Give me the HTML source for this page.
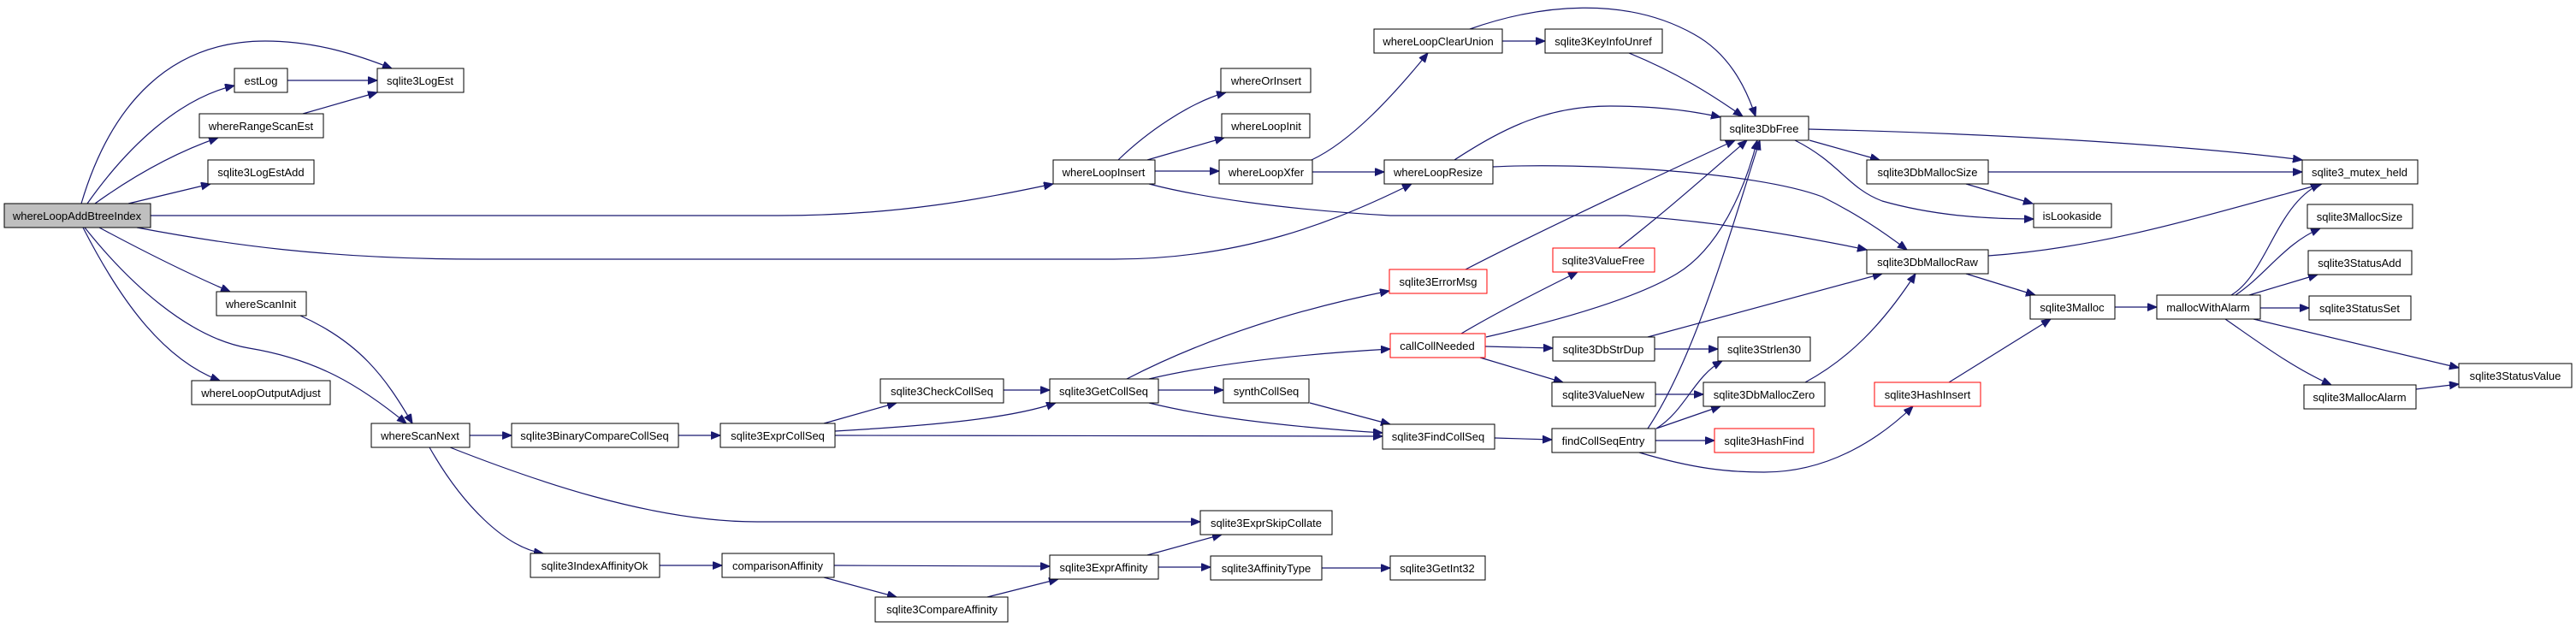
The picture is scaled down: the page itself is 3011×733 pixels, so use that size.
<!DOCTYPE html>
<html><head><meta charset="utf-8"><style>
html,body{margin:0;padding:0;background:#fff;}
svg{display:block;}
text{font-family:"Liberation Sans",Arial,sans-serif;font-size:13px;fill:#000;text-anchor:middle;}
.e{fill:none;stroke:#191970;stroke-width:1.2;marker-end:url(#a);}
.n{fill:#fff;stroke:#000;stroke-width:1;}
.r{fill:#fff;stroke:#ff0000;stroke-width:1;}
</style></head><body>
<svg width="3011" height="733" viewBox="0 0 3011 733" xmlns="http://www.w3.org/2000/svg">
<defs><marker id="a" markerUnits="userSpaceOnUse" markerWidth="12" markerHeight="10" refX="11" refY="4.5" orient="auto"><path d="M0,0 L11,4.5 L0,9 z" fill="#191970" stroke="#191970"/></marker></defs>
<g>
<path class="e" d="M95,238 C130,120 200,48 310,48 C370,48 420,65 458,80"/>
<path class="e" d="M102,238 C150,170 210,115 274,100"/>
<path class="e" d="M111,238 C150,210 200,180 255,161"/>
<path class="e" d="M150,238 L246,215"/>
<path class="e" d="M176,252 L910,252 C1050,252 1150,232 1231,215"/>
<path class="e" d="M160,266 C260,285 380,303 560,303 L1302,303 C1450,303 1560,260 1650,215"/>
<path class="e" d="M116,266 C170,295 220,320 269,341"/>
<path class="e" d="M99,266 C150,330 220,395 291,407 C370,420 420,450 475,495"/>
<path class="e" d="M97,266 C140,350 190,420 257,445"/>
<path class="e" d="M336,94 L441,94"/>
<path class="e" d="M354,133 L441,108"/>
<path class="e" d="M351,369 C420,400 450,440 482,495"/>
<path class="e" d="M549,509 L598,509"/>
<path class="e" d="M526,523 C620,560 760,610 885,610 L1403,610"/>
<path class="e" d="M502,523 C540,590 590,640 635,647"/>
<path class="e" d="M793,509 L842,509"/>
<path class="e" d="M963,495 L1048,471"/>
<path class="e" d="M976,504 C1080,498 1180,490 1234,471"/>
<path class="e" d="M976,509 L1616,510"/>
<path class="e" d="M1173,456 L1227,456"/>
<path class="e" d="M1317,443 C1400,400 1500,365 1624,340"/>
<path class="e" d="M1343,443 C1420,425 1520,414 1625,408"/>
<path class="e" d="M1354,456 L1430,456"/>
<path class="e" d="M1343,471 C1420,490 1520,500 1616,506"/>
<path class="e" d="M1531,471 L1625,496"/>
<path class="e" d="M771,661 L844,661"/>
<path class="e" d="M975,661 L1227,662"/>
<path class="e" d="M963,675 L1048,698"/>
<path class="e" d="M1154,698 L1237,677"/>
<path class="e" d="M1341,649 L1428,625"/>
<path class="e" d="M1354,663 L1415,663"/>
<path class="e" d="M1545,664 L1625,664"/>
<path class="e" d="M1307,187 C1340,155 1390,120 1433,108"/>
<path class="e" d="M1341,187 L1431,161"/>
<path class="e" d="M1350,200 L1425,200"/>
<path class="e" d="M1343,215 C1400,230 1500,245 1625,252 L1900,252 C2000,258 2100,275 2182,292"/>
<path class="e" d="M1533,187 C1580,165 1630,110 1669,62"/>
<path class="e" d="M1534,201 L1618,201"/>
<path class="e" d="M1756,48 L1806,48"/>
<path class="e" d="M1718,34 C1800,5 1900,-5 1980,40 C2020,62 2040,100 2052,136"/>
<path class="e" d="M1904,62 C1960,85 2000,110 2037,136"/>
<path class="e" d="M1700,187 C1760,148 1810,124 1882,124 C1940,124 1980,130 2011,137"/>
<path class="e" d="M1745,195 C1850,190 2050,200 2130,230 C2170,250 2200,270 2229,292"/>
<path class="e" d="M1713,315 C1800,270 1950,200 2028,164"/>
<path class="e" d="M1892,290 C1950,245 2000,200 2042,164"/>
<path class="e" d="M1708,390 C1750,365 1800,340 1844,318"/>
<path class="e" d="M1737,394 C1820,375 1910,350 1960,320 C2010,290 2040,220 2054,164"/>
<path class="e" d="M1736,405 L1815,407"/>
<path class="e" d="M1730,418 L1827,447"/>
<path class="e" d="M1926,394 L2200,320"/>
<path class="e" d="M1934,408 L2008,408"/>
<path class="e" d="M1935,461 L1991,461"/>
<path class="e" d="M2110,447 C2160,420 2200,380 2239,320"/>
<path class="e" d="M1747,512 L1814,514"/>
<path class="e" d="M1926,501 C1980,420 2020,280 2057,164"/>
<path class="e" d="M1936,501 C1970,480 1980,440 2013,422"/>
<path class="e" d="M1936,501 L2011,475"/>
<path class="e" d="M1935,515 L2004,515"/>
<path class="e" d="M1916,529 C1980,548 2020,552 2062,552 C2140,552 2200,510 2236,475"/>
<path class="e" d="M2114,151 C2400,158 2600,175 2691,187"/>
<path class="e" d="M2115,164 L2197,187"/>
<path class="e" d="M2098,164 C2150,190 2160,220 2200,235 C2260,252 2320,256 2377,256"/>
<path class="e" d="M2324,201 L2691,201"/>
<path class="e" d="M2298,215 L2376,238"/>
<path class="e" d="M2324,299 C2450,290 2550,260 2714,215"/>
<path class="e" d="M2298,320 L2379,345"/>
<path class="e" d="M2278,447 L2397,373"/>
<path class="e" d="M2472,359 L2521,359"/>
<path class="e" d="M2608,345 C2650,320 2660,240 2712,215"/>
<path class="e" d="M2613,345 C2650,320 2670,285 2712,267"/>
<path class="e" d="M2629,345 L2709,321"/>
<path class="e" d="M2642,360 L2699,360"/>
<path class="e" d="M2634,373 L2874,430"/>
<path class="e" d="M2601,373 C2640,400 2680,430 2725,450"/>
<path class="e" d="M2824,455 L2874,449"/>
</g>
<g>
<rect x="5" y="238" width="171" height="28" fill="#bfbfbf" stroke="#000"/><text x="90" y="257">whereLoopAddBtreeIndex</text>
<rect class="n" x="274" y="80" width="62" height="28"/><text x="305" y="99">estLog</text>
<rect class="n" x="441" y="80" width="101" height="28"/><text x="491" y="99">sqlite3LogEst</text>
<rect class="n" x="233" y="133" width="145" height="28"/><text x="305" y="152">whereRangeScanEst</text>
<rect class="n" x="243" y="187" width="124" height="28"/><text x="305" y="206">sqlite3LogEstAdd</text>
<rect class="n" x="253" y="341" width="105" height="28"/><text x="305" y="360">whereScanInit</text>
<rect class="n" x="224" y="445" width="162" height="28"/><text x="305" y="464">whereLoopOutputAdjust</text>
<rect class="n" x="434" y="495" width="115" height="28"/><text x="491" y="514">whereScanNext</text>
<rect class="n" x="598" y="495" width="195" height="28"/><text x="695" y="514">sqlite3BinaryCompareCollSeq</text>
<rect class="n" x="620" y="647" width="151" height="28"/><text x="695" y="666">sqlite3IndexAffinityOk</text>
<rect class="n" x="1231" y="187" width="119" height="28"/><text x="1290" y="206">whereLoopInsert</text>
<rect class="n" x="1427" y="80" width="105" height="28"/><text x="1480" y="99">whereOrInsert</text>
<rect class="n" x="1428" y="133" width="103" height="28"/><text x="1480" y="152">whereLoopInit</text>
<rect class="n" x="1425" y="187" width="109" height="28"/><text x="1480" y="206">whereLoopXfer</text>
<rect class="n" x="1029" y="443" width="144" height="28"/><text x="1101" y="462">sqlite3CheckCollSeq</text>
<rect class="n" x="1227" y="443" width="127" height="28"/><text x="1290" y="462">sqlite3GetCollSeq</text>
<rect class="n" x="1430" y="443" width="100" height="28"/><text x="1480" y="462">synthCollSeq</text>
<rect class="n" x="842" y="495" width="134" height="28"/><text x="909" y="514">sqlite3ExprCollSeq</text>
<rect class="n" x="1403" y="597" width="154" height="28"/><text x="1480" y="616">sqlite3ExprSkipCollate</text>
<rect class="n" x="844" y="647" width="131" height="28"/><text x="909" y="666">comparisonAffinity</text>
<rect class="n" x="1227" y="649" width="127" height="28"/><text x="1290" y="668">sqlite3ExprAffinity</text>
<rect class="n" x="1023" y="698" width="155" height="29"/><text x="1101" y="717">sqlite3CompareAffinity</text>
<rect class="n" x="1415" y="650" width="130" height="28"/><text x="1480" y="669">sqlite3AffinityType</text>
<rect class="n" x="1625" y="650" width="111" height="28"/><text x="1680" y="669">sqlite3GetInt32</text>
<rect class="n" x="1606" y="34" width="150" height="28"/><text x="1681" y="53">whereLoopClearUnion</text>
<rect class="n" x="1806" y="34" width="137" height="28"/><text x="1874" y="53">sqlite3KeyInfoUnref</text>
<rect class="n" x="2011" y="136" width="103" height="28"/><text x="2062" y="155">sqlite3DbFree</text>
<rect class="n" x="1618" y="187" width="127" height="28"/><text x="1681" y="206">whereLoopResize</text>
<rect class="n" x="2182" y="187" width="142" height="28"/><text x="2253" y="206">sqlite3DbMallocSize</text>
<rect class="n" x="2182" y="292" width="142" height="28"/><text x="2253" y="311">sqlite3DbMallocRaw</text>
<rect class="r" x="1624" y="315" width="114" height="28"/><text x="1681" y="334">sqlite3ErrorMsg</text>
<rect class="r" x="1815" y="290" width="119" height="28"/><text x="1874" y="309">sqlite3ValueFree</text>
<rect class="r" x="1625" y="390" width="111" height="28"/><text x="1680" y="409">callCollNeeded</text>
<rect class="n" x="1815" y="394" width="119" height="28"/><text x="1874" y="413">sqlite3DbStrDup</text>
<rect class="n" x="2008" y="394" width="108" height="28"/><text x="2062" y="413">sqlite3Strlen30</text>
<rect class="n" x="1814" y="447" width="121" height="28"/><text x="1874" y="466">sqlite3ValueNew</text>
<rect class="n" x="1991" y="447" width="142" height="28"/><text x="2062" y="466">sqlite3DbMallocZero</text>
<rect class="r" x="2191" y="447" width="124" height="28"/><text x="2253" y="466">sqlite3HashInsert</text>
<rect class="n" x="1616" y="496" width="131" height="29"/><text x="1681" y="515">sqlite3FindCollSeq</text>
<rect class="n" x="1814" y="501" width="121" height="28"/><text x="1874" y="520">findCollSeqEntry</text>
<rect class="r" x="2004" y="501" width="116" height="28"/><text x="2062" y="520">sqlite3HashFind</text>
<rect class="n" x="2691" y="187" width="135" height="28"/><text x="2758" y="206">sqlite3_mutex_held</text>
<rect class="n" x="2377" y="238" width="91" height="28"/><text x="2422" y="257">isLookaside</text>
<rect class="n" x="2697" y="239" width="123" height="28"/><text x="2758" y="258">sqlite3MallocSize</text>
<rect class="n" x="2698" y="293" width="121" height="28"/><text x="2758" y="312">sqlite3StatusAdd</text>
<rect class="n" x="2699" y="346" width="119" height="28"/><text x="2758" y="365">sqlite3StatusSet</text>
<rect class="n" x="2373" y="345" width="99" height="28"/><text x="2422" y="364">sqlite3Malloc</text>
<rect class="n" x="2521" y="345" width="121" height="28"/><text x="2581" y="364">mallocWithAlarm</text>
<rect class="n" x="2874" y="425" width="132" height="28"/><text x="2940" y="444">sqlite3StatusValue</text>
<rect class="n" x="2693" y="450" width="131" height="28"/><text x="2758" y="469">sqlite3MallocAlarm</text>
</g>
</svg>
</body></html>
